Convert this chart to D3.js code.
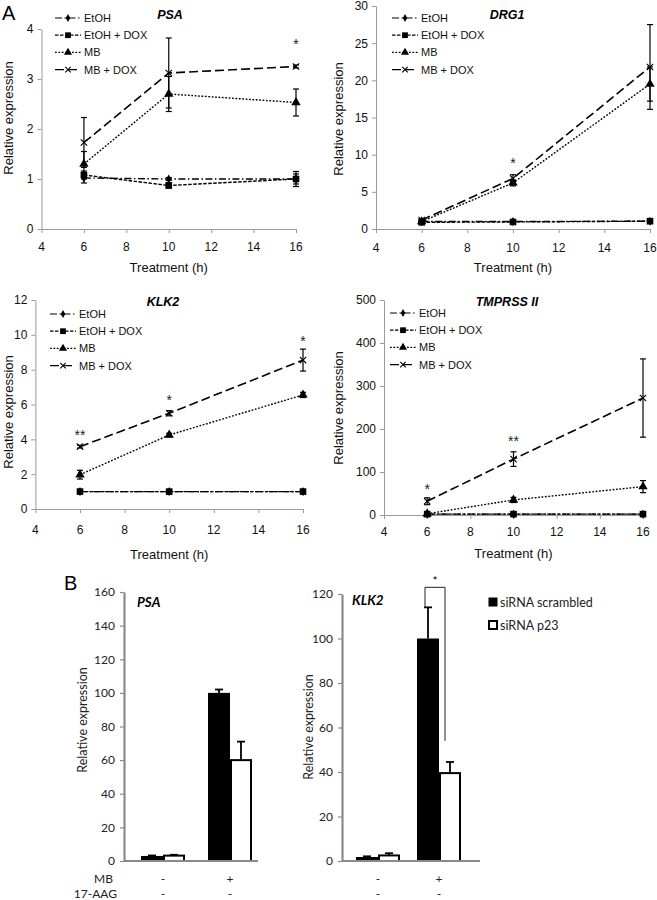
<!DOCTYPE html>
<html>
<head>
<meta charset="utf-8">
<script src="https://cdn.jsdelivr.net/npm/d3@7"></script>
<style>
  body { margin: 0; background: #fff; }
  svg { display: block; }
</style>
</head>
<body>
<div id="chart"></div>
<script>
// ---- data ----
const hours = [6, 10, 16];
const xTicks = [4, 6, 8, 10, 12, 14, 16];
const seriesNames = ["EtOH", "EtOH + DOX", "MB", "MB + DOX"];

// rows: EtOH, EtOH + DOX, MB, MB + DOX ; columns: 6h, 10h, 16h
const psaMeans = [[1.02, 1.0, 1.0], [1.08, 0.87, 1.0], [1.3, 2.7, 2.53], [1.73, 3.12, 3.25]];
const psaErrs = [[0.1, 0.03, 0.1], [0.08, 0.05, 0.15], [0.25, 0.35, 0.27], [0.5, 0.7, 0.03]];
const psaStars = ["", "", "*"];
const psaStarY = [null, null, 3.72];

const drg1Means = [[1.0, 1.0, 1.05], [0.9, 0.95, 1.05], [1.0, 6.2, 19.5], [1.2, 6.8, 21.8]];
const drg1Errs = [[0.1, 0.1, 0.1], [0.1, 0.1, 0.1], [0.2, 0.4, 2.3], [0.2, 0.5, 5.7]];
const drg1Stars = ["", "*", ""];
const drg1StarY = [null, 9.0, null];

const klk2Means = [[1, 1, 1], [1, 1, 1], [1.97, 4.25, 6.55], [3.58, 5.5, 8.55]];
const klk2Errs = [[0, 0, 0], [0, 0, 0], [0.25, 0.1, 0.15], [0.08, 0.15, 0.63]];
const klk2Stars = ["**", "*", "*"];
const klk2StarY = [4.3, 6.3, 9.7];

const tmpMeans = [[2, 2, 2], [2, 2, 2], [3, 35, 66], [32, 130, 272]];
const tmpErrs = [[0.5, 0.5, 0.5], [0.5, 0.5, 0.5], [1, 6, 14], [8, 17, 91]];
const tmpStars = ["*", "**", ""];
const tmpStarY = [62, 175, null];

// panel B
const barGroups = ["-", "+"];
const aagRow = ["-", "-"];
const barSeries = ["siRNA scrambled", "siRNA p23"];
const psaScrambled = [3, 100];
const psaScrambledErr = [0.3, 2];
const psaP23 = [3.2, 60];
const psaP23Err = [0.5, 11];
const klkScrambled = [1.8, 100];
const klkScrambledErr = [0.3, 14];
const klkP23 = [2.5, 39.5];
const klkP23Err = [1.0, 5];
const klkBracket = [114, 123, 54]; // left leg bottom, top, right leg bottom

// ---- drawing ----
const W = 657, H = 900;
const svg = d3.select("#chart").append("svg").attr("width", W).attr("height", H);
const lineFont = "'Liberation Sans', Arial, sans-serif";
const barFont = "Lato, 'Open Sans', sans-serif";

const dashes = ["7,2.5,1.5,2.5", "3.5,1.5", "1.8,1.6", "9,4"];
const markerTypes = [d3.symbolDiamond, d3.symbolSquare, d3.symbolTriangle, d3.symbolX];
const markerSizes = [24, 44, 38, 28];

function drawMarker(g, i, x, y, scale = 1) {
    const path = d3.symbol().type(markerTypes[i]).size(markerSizes[i] * scale);
    const m = g.append("path").attr("d", path).attr("transform", `translate(${x},${y})`);
    if (i === 3) m.attr("fill", "none").attr("stroke", "#000").attr("stroke-width", 1.1);
    else m.attr("fill", "#000");
}

const linePanels = [
    { title: "PSA", means: psaMeans, errs: psaErrs, stars: psaStars, starY: psaStarY, yMax: 4, yStep: 1,
      xr: [41.5, 296], yr: [229, 29], titleX: 170, titleY: 19, legX: 55, legY: 18,
      yLabX: 13, yLabY: 118, tickLabY: 251, xTitleY: 272 },
    { title: "DRG1", means: drg1Means, errs: drg1Errs, stars: drg1Stars, starY: drg1StarY, yMax: 30, yStep: 5,
      xr: [376, 650], yr: [229, 6], titleX: 507, titleY: 19, legX: 392, legY: 18,
      yLabX: 343, yLabY: 119, tickLabY: 252, xTitleY: 272 },
    { title: "KLK2", means: klk2Means, errs: klk2Errs, stars: klk2Stars, starY: klk2StarY, yMax: 12, yStep: 2,
      xr: [35.4, 303], yr: [509, 300], titleX: 163, titleY: 306, legX: 50, legY: 314,
      yLabX: 13, yLabY: 412, tickLabY: 534, xTitleY: 559 },
    { title: "TMPRSS II", means: tmpMeans, errs: tmpErrs, stars: tmpStars, starY: tmpStarY, yMax: 500, yStep: 100,
      xr: [384, 643], yr: [515, 300], titleX: 507, titleY: 306, legX: 390, legY: 313,
      yLabX: 343, yLabY: 408, tickLabY: 536, xTitleY: 558 }
];

linePanels.forEach(p => {
    const g = svg.append("g");
    const x = d3.scaleLinear().domain([4, 16]).range(p.xr);
    const y = d3.scaleLinear().domain([0, p.yMax]).range(p.yr);

    // axes
    const yAxis = g.append("g").attr("transform", `translate(${p.xr[0]},0)`)
        .call(d3.axisLeft(y).tickValues(d3.range(0, p.yMax + p.yStep / 2, p.yStep))
            .tickFormat(d3.format("d")).tickSize(4).tickSizeOuter(0).tickPadding(4));
    const xAxis = g.append("g").attr("transform", `translate(0,${p.yr[0]})`)
        .call(d3.axisBottom(x).tickValues(xTicks).tickSize(4).tickSizeOuter(0).tickFormat(() => ""));
    [yAxis, xAxis].forEach(a => {
        a.selectAll("path, line").attr("stroke", "#9a9a9a");
        a.selectAll("text").attr("font-family", lineFont).attr("font-size", 12).attr("fill", "#111");
    });
    g.selectAll(".xtl").data(xTicks).enter().append("text")
        .attr("x", d => x(d)).attr("y", p.tickLabY).attr("text-anchor", "middle")
        .attr("font-family", lineFont).attr("font-size", 12).attr("fill", "#111").text(d => d);

    g.append("text").attr("x", (p.xr[0] + p.xr[1]) / 2).attr("y", p.xTitleY).attr("text-anchor", "middle")
        .attr("font-family", lineFont).attr("font-size", 13).attr("fill", "#111").text("Treatment (h)");
    g.append("text").attr("transform", `translate(${p.yLabX},${p.yLabY}) rotate(-90)`).attr("text-anchor", "middle")
        .attr("font-family", lineFont).attr("font-size", 13).attr("fill", "#111").text("Relative expression");
    g.append("text").attr("x", p.titleX).attr("y", p.titleY).attr("text-anchor", "middle")
        .attr("font-family", lineFont).attr("font-size", 12.5).attr("font-weight", "bold").attr("font-style", "italic")
        .text(p.title);

    // error bars
    p.means.forEach((row, si) => {
        row.forEach((v, hi) => {
            const e = p.errs[si][hi];
            if (e <= 0) return;
            const cx = x(hours[hi]);
            g.append("line").attr("x1", cx).attr("x2", cx).attr("y1", y(v - e)).attr("y2", y(v + e))
                .attr("stroke", "#000").attr("stroke-width", 1.2);
            [v - e, v + e].forEach(t => g.append("line").attr("x1", cx - 3).attr("x2", cx + 3)
                .attr("y1", y(t)).attr("y2", y(t)).attr("stroke", "#000").attr("stroke-width", 1.2));
        });
    });

    // lines + markers
    const line = d3.line().x((d, i) => x(hours[i])).y(d => y(d));
    p.means.forEach((row, si) => {
        g.append("path").datum(row).attr("d", line).attr("fill", "none").attr("stroke", "#000")
            .attr("stroke-width", si === 3 ? 1.6 : 1.4).attr("stroke-dasharray", dashes[si]);
        row.forEach((v, hi) => drawMarker(g, si, x(hours[hi]), y(v)));
    });

    // significance stars
    p.stars.forEach((s, hi) => {
        if (!s) return;
        g.append("text").attr("x", x(hours[hi])).attr("y", y(p.starY[hi]) + 6).attr("text-anchor", "middle")
            .attr("font-family", lineFont).attr("font-size", 14).attr("fill", "#222").text(s);
    });

    // legend
    seriesNames.forEach((name, si) => {
        const ly = p.legY + si * 17.2;
        g.append("line").attr("x1", p.legX).attr("x2", p.legX + 26).attr("y1", ly).attr("y2", ly)
            .attr("stroke", "#000").attr("stroke-width", 1.2).attr("stroke-dasharray", dashes[si]);
        drawMarker(g, si, p.legX + 13, ly, 0.75);
        g.append("text").attr("x", p.legX + 29).attr("y", ly + 4)
            .attr("font-family", lineFont).attr("font-size", 11).attr("fill", "#111").text(name);
    });
});

// panel letters
svg.append("text").attr("x", 2).attr("y", 20).attr("font-family", lineFont).attr("font-size", 20).text("A");
svg.append("text").attr("x", 64).attr("y", 590).attr("font-family", lineFont).attr("font-size", 20).text("B");

// ---- bar panels ----
const barPanels = [
    { title: "PSA", dark: psaScrambled, darkErr: psaScrambledErr, light: psaP23, lightErr: psaP23Err,
      yMax: 160, axisX: 124, axisEnd: 258, yr: [861, 592], centers: [163, 230],
      titleX: 137, titleY: 607, yLabX: 87, yLabY: 720 },
    { title: "KLK2", dark: klkScrambled, darkErr: klkScrambledErr, light: klkP23, lightErr: klkP23Err,
      yMax: 120, axisX: 342, axisEnd: 480, yr: [861, 594], centers: [378, 439],
      titleX: 352, titleY: 605, yLabX: 313, yLabY: 727 }
];
const barW = 22;

barPanels.forEach((p, pi) => {
    const g = svg.append("g");
    const y = d3.scaleLinear().domain([0, p.yMax]).range(p.yr);
    const x = d3.scalePoint().domain(barGroups).range(p.centers);

    const yAxis = g.append("g").attr("transform", `translate(${p.axisX},0)`)
        .call(d3.axisLeft(y).tickValues(d3.range(0, p.yMax + 1, 20)).tickFormat(d3.format("d"))
            .tickSize(4).tickSizeOuter(0).tickPadding(5));
    yAxis.select(".domain").attr("stroke", "#8a8a8a").attr("stroke-width", 2.2);
    yAxis.selectAll(".tick line").attr("stroke", "#8a8a8a").attr("stroke-width", 1.2);
    yAxis.selectAll("text").attr("font-family", barFont).attr("font-size", 12).attr("fill", "#222");

    g.append("text").attr("x", p.titleX).attr("y", p.titleY)
        .attr("font-family", barFont).attr("font-size", 13.5).attr("font-weight", "bold").attr("font-style", "italic")
        .text(p.title);
    g.append("text").attr("transform", `translate(${p.yLabX},${p.yLabY}) rotate(-90)`).attr("text-anchor", "middle")
        .attr("font-family", barFont).attr("font-size", 12.5).attr("fill", "#222").text("Relative expression");

    // error bars (upper only)
    const errs = [];
    barGroups.forEach((grp, gi) => {
        errs.push({ cx: x(grp) - barW / 2, v: p.dark[gi], e: p.darkErr[gi] });
        errs.push({ cx: x(grp) + barW / 2, v: p.light[gi], e: p.lightErr[gi] });
    });
    errs.forEach(d => {
        g.append("line").attr("x1", d.cx).attr("x2", d.cx).attr("y1", y(d.v)).attr("y2", y(d.v + d.e))
            .attr("stroke", "#000").attr("stroke-width", 1.8);
        g.append("line").attr("x1", d.cx - 4).attr("x2", d.cx + 4).attr("y1", y(d.v + d.e)).attr("y2", y(d.v + d.e))
            .attr("stroke", "#000").attr("stroke-width", 1.8);
    });

    // bars
    g.selectAll(".dark").data(barGroups).enter().append("rect")
        .attr("x", d => x(d) - barW).attr("width", barW)
        .attr("y", (d, i) => y(p.dark[i])).attr("height", (d, i) => y(0) - y(p.dark[i]))
        .attr("fill", "#000");
    g.selectAll(".light").data(barGroups).enter().append("rect")
        .attr("x", d => x(d) + 1).attr("width", barW - 2)
        .attr("y", (d, i) => y(p.light[i])).attr("height", (d, i) => y(0) - y(p.light[i]))
        .attr("fill", "#fff").attr("stroke", "#000").attr("stroke-width", 2);

    // baseline
    g.append("line").attr("x1", p.axisX).attr("x2", p.axisEnd).attr("y1", y(0)).attr("y2", y(0))
        .attr("stroke", "#8a8a8a").attr("stroke-width", 2.2);

    // row labels
    barGroups.forEach((grp, gi) => {
        g.append("text").attr("x", x(grp)).attr("y", 883).attr("text-anchor", "middle")
            .attr("font-family", barFont).attr("font-size", 12).attr("fill", "#222").text(grp);
        g.append("text").attr("x", x(grp)).attr("y", 898).attr("text-anchor", "middle")
            .attr("font-family", barFont).attr("font-size", 12).attr("fill", "#222").text(aagRow[gi]);
    });

    if (pi === 1) {
        const lx = x("+") - barW / 2 - 3, rx = x("+") + barW / 2 - 5;
        g.append("path")
            .attr("d", `M${lx},${y(klkBracket[0])}V${y(klkBracket[1])}H${rx}V${y(klkBracket[2])}`)
            .attr("fill", "none").attr("stroke", "#222").attr("stroke-width", 1);
        g.append("text").attr("x", (lx + rx) / 2).attr("y", y(klkBracket[1]) - 2).attr("text-anchor", "middle")
            .attr("font-family", barFont).attr("font-size", 12).text("*");
    }
});

// row titles
svg.append("text").attr("x", 113).attr("y", 883).attr("text-anchor", "end")
    .attr("font-family", barFont).attr("font-size", 12).attr("fill", "#222").text("MB");
svg.append("text").attr("x", 117).attr("y", 898).attr("text-anchor", "end")
    .attr("font-family", barFont).attr("font-size", 12).attr("fill", "#222").text("17-AAG");

// bar legend
barSeries.forEach((name, i) => {
    const ly = 597 + i * 23;
    svg.append("rect").attr("x", 489).attr("y", ly + 1).attr("width", 8).attr("height", 8)
        .attr("fill", i === 0 ? "#000" : "#fff").attr("stroke", "#000").attr("stroke-width", i === 0 ? 1 : 2);
    svg.append("text").attr("x", 500).attr("y", ly + 9.5)
        .attr("font-family", barFont).attr("font-size", 12.5).attr("fill", "#222").text(name);
});
</script>
</body>
</html>
